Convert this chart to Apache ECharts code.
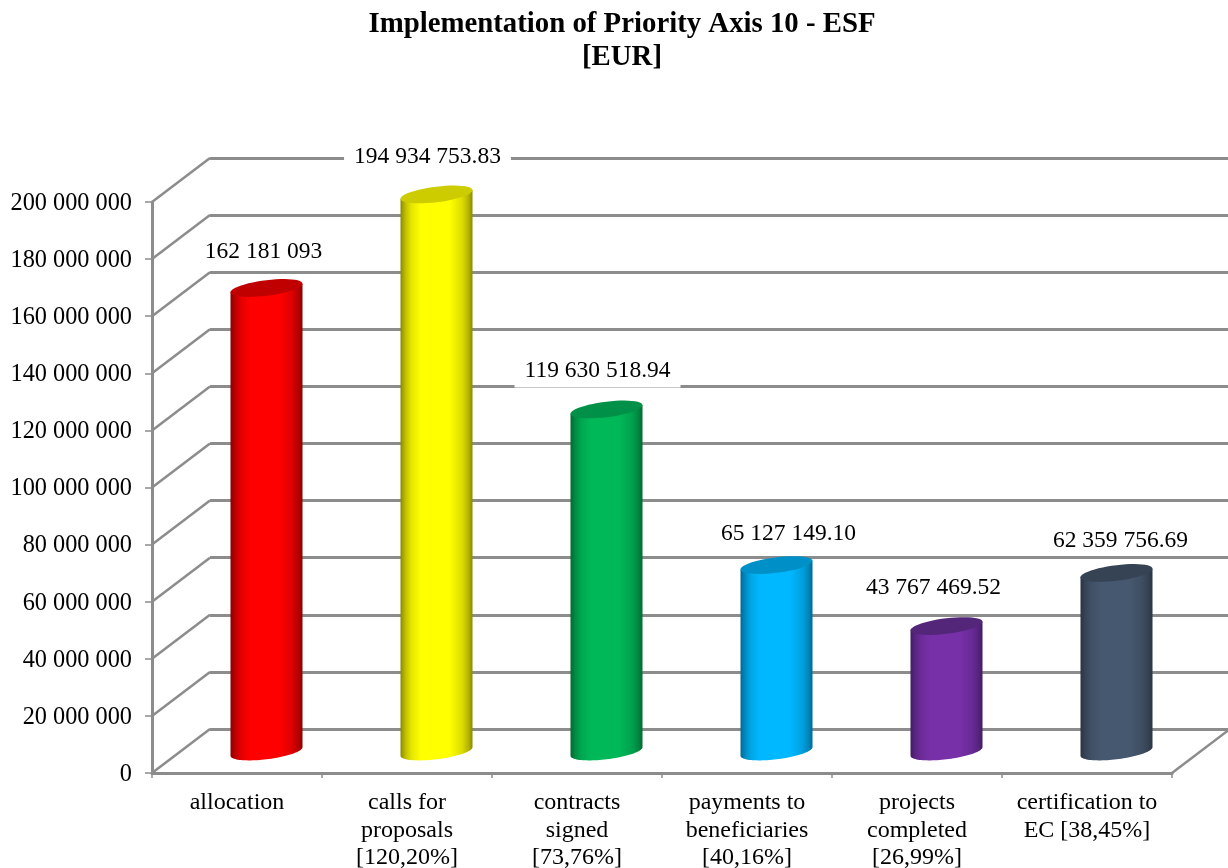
<!DOCTYPE html>
<html>
<head>
<meta charset="utf-8">
<style>html,body{margin:0;padding:0;background:#fff}#c{width:1228px;height:868px}</style>
<script src="https://cdn.jsdelivr.net/npm/echarts@6/dist/echarts.min.js"></script>
</head>
<body>
<div id="c"></div>
<script>
const categories = ['allocation','calls for\nproposals\n[120,20%]','contracts\nsigned\n[73,76%]','payments to\nbeneficiaries\n[40,16%]','projects\ncompleted\n[26,99%]','certification to\nEC [38,45%]'];
const values = [162181093, 194934753.83, 119630518.94, 65127149.10, 43767469.52, 62359756.69];
const valueLabels = ['162 181 093','194 934 753.83','119 630 518.94','65 127 149.10','43 767 469.52','62 359 756.69'];
const axisTicks = [0,20000000,40000000,60000000,80000000,100000000,120000000,140000000,160000000,180000000,200000000];
const midColors = ['#ff0000','#ffff00','#00b858','#00b8ff','#7830a8','#46586f'];
const edgeColors = ['#8a0000','#8a8a00','#006a34','#006a94','#431c66','#2a3442'];
const capColors = ['#c00000','#cccc00','#009048','#0090c8','#54267a','#364355'];
const labelNudge = [[-3,-36.5],[-9,-37.5],[-9,-38.5],[12,-31.5],[-13,-38.5],[4,-32.5]];

const DX = 58, DY = -44, GRAY = '#8c8c8c', FONT = '"Liberation Serif","Times New Roman",serif';

function ellipsePts(cx, cy, rx, ry, slope, from, to) {
  const pts = [];
  for (let i = 0; i <= 48; i++) {
    const t = from + (to - from) * i / 48;
    const x = rx * Math.cos(t), y = ry * Math.sin(t);
    pts.push([cx + x, cy + y - slope * x]);
  }
  return pts;
}
function mix(a, b, t) {
  const p = s => [1, 3, 5].map(k => parseInt(s.substr(k, 2), 16));
  const A = p(a), B = p(b);
  return 'rgb(' + A.map((v, k) => Math.round(v + (B[k] - v) * t)).join(',') + ')';
}

const option = {
  animation: false,
  backgroundColor: '#ffffff',
  title: {
    text: 'Implementation of Priority Axis 10 - ESF\n[EUR]',
    left: 617, top: 3, textAlign: 'center',
    textStyle: {fontFamily: FONT, fontWeight: 'bold', fontSize: 28.8, lineHeight: 33, color: '#000'}
  },
  grid: [
    {left: 152, top: 202, width: 1020, height: 571, outerBoundsMode: 'none'},
    {left: 152 + DX, top: 202 + DY, width: 1020, height: 571, outerBoundsMode: 'none'}
  ],
  xAxis: [
    {type: 'category', gridIndex: 0, data: categories, boundaryGap: true,
     axisLine: {lineStyle: {color: GRAY, width: 3}},
     axisTick: {show: true, length: 5, alignWithLabel: false, lineStyle: {color: GRAY, width: 1.5}},
     axisLabel: {interval: 0, color: '#000', fontFamily: FONT, fontSize: 24, lineHeight: 27.5, margin: 16, hideOverlap: false}},
    {type: 'category', gridIndex: 1, data: categories, show: false}
  ],
  yAxis: [
    {type: 'value', gridIndex: 0, min: 0, max: 200000000, interval: 20000000,
     axisLine: {show: true, lineStyle: {color: GRAY, width: 3}},
     axisTick: {show: true, length: 7, lineStyle: {color: GRAY, width: 1.5}},
     splitLine: {show: false},
     axisLabel: {color: '#000', fontFamily: FONT, fontSize: 24.3, margin: 20, verticalAlign: 'top', lineHeight: 3,
       formatter: v => String(v).replace(/\B(?=(\d{3})+$)/g, ' ')}},
    {type: 'value', gridIndex: 1, min: 0, max: 200000000, interval: 20000000,
     axisLine: {show: false}, axisTick: {show: false}, axisLabel: {show: false},
     splitLine: {show: true, lineStyle: {color: GRAY, width: 3}}}
  ],
  series: [
    {
      type: 'custom', xAxisIndex: 0, yAxisIndex: 0, z: 1, silent: true,
      data: axisTicks.map(v => [0, v]),
      renderItem(params, api) {
        const c = api.coord([0, api.value(1)]);
        const x0 = params.coordSys.x;
        return {type: 'line', shape: {x1: x0, y1: c[1], x2: x0 + DX, y2: c[1] + DY},
          style: {stroke: GRAY, lineWidth: 2.5}};
      }
    },
    {
      type: 'custom', xAxisIndex: 0, yAxisIndex: 0, z: 1, silent: true,
      data: [[5, 0]],
      renderItem(params, api) {
        const c = api.coord([5, api.value(1)]);
        const x0 = params.coordSys.x + params.coordSys.width;
        return {type: 'line', shape: {x1: x0, y1: c[1], x2: x0 + DX, y2: c[1] + DY},
          style: {stroke: GRAY, lineWidth: 2.5}};
      }
    },
    {
      type: 'custom', xAxisIndex: 0, yAxisIndex: 0, z: 3, silent: true,
      data: values.map((v, i) => [i, v]),
      renderItem(params, api) {
        const i = api.value(0);
        const top = api.coord([i, api.value(1)]);
        const base = api.coord([i, 0]);
        const cx = top[0] + DX / 2 + 0.5, yT = top[1] + DY / 2, yB = base[1] + DY / 2 + 0.5;
        const rx = 36, ry = 7.8, slope = 4.3 / 36;
        const front = ellipsePts(cx, yB, rx, ry, slope, 0, Math.PI);
        const body = [[cx + rx, yT - slope * rx]].concat(front, [[cx - rx, yT + slope * rx]]);
        const e = edgeColors[i], m = midColors[i];
        const grad = {type: 'linear', x: 0, y: 0, x2: 1, y2: 0, colorStops: [
          {offset: 0, color: e},
          {offset: 0.07, color: mix(e, m, 0.45)},
          {offset: 0.15, color: mix(e, m, 0.78)},
          {offset: 0.28, color: m},
          {offset: 0.68, color: m},
          {offset: 0.85, color: mix(e, m, 0.72)},
          {offset: 0.94, color: mix(e, m, 0.38)},
          {offset: 1, color: e}
        ]};
        return {type: 'group', children: [
          {type: 'polygon', shape: {points: body}, style: {fill: grad}},
          {type: 'polygon', shape: {points: ellipsePts(cx, yT, rx, ry, slope, 0, Math.PI * 2)}, style: {fill: capColors[i]}},
          {type: 'text', x: cx + labelNudge[i][0], y: yT + labelNudge[i][1], z2: 10,
           style: {text: valueLabels[i], fill: '#000', font: '23.5px ' + FONT, align: 'center', verticalAlign: 'middle',
             backgroundColor: '#fff', padding: [5, 10, i === 2 ? 4 : 1, 10]}}
        ]};
      }
    }
  ]
};
echarts.init(document.getElementById('c'), null, {renderer: 'canvas'}).setOption(option);
</script>
</body>
</html>
